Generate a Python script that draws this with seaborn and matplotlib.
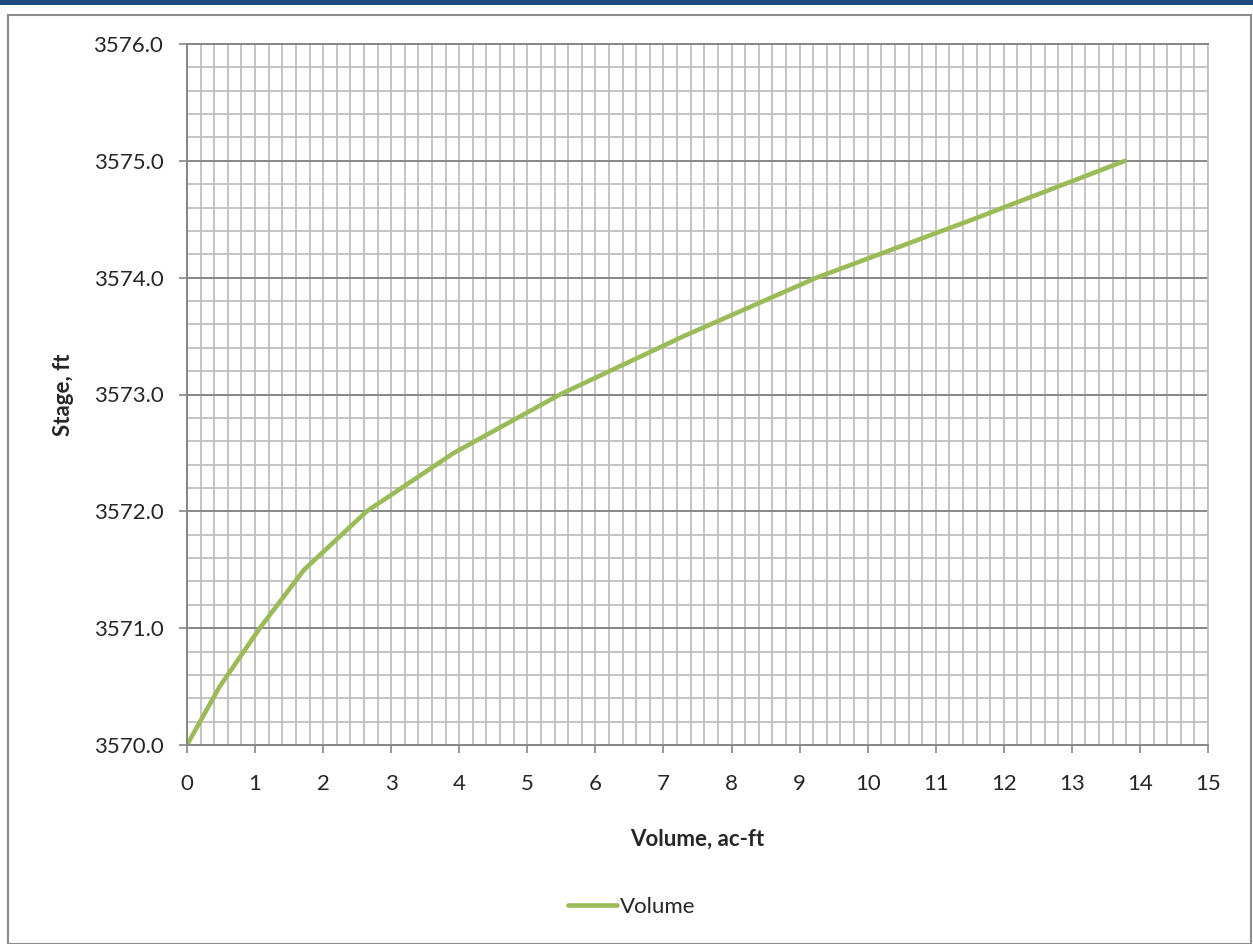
import numpy as np
import pandas as pd
import seaborn as sns
import matplotlib.pyplot as plt
from matplotlib.patches import Rectangle
from matplotlib.ticker import MultipleLocator, FormatStrFormatter

# stage-volume table
stage = [3570.0, 3570.5, 3571.0, 3571.5, 3572.0, 3572.5, 3573.0, 3573.5, 3574.0, 3574.5, 3575.0]
volume = [0.0, 0.48, 1.07, 1.72, 2.64, 3.92, 5.48, 7.30, 9.25, 11.55, 13.78]

df = pd.DataFrame({'Volume': volume, 'Stage': stage})

sns.set_style('white')
plt.rcParams['font.family'] = ['Lato', 'DejaVu Sans']

fig = plt.figure(figsize=(12.53, 9.44), dpi=100)
ax = fig.add_axes([187/1253, 1-745/944, (1208-187)/1253, (745-44)/944])

# frame and top bar
fig.patches.append(Rectangle((8/1253, 0), (1251-8)/1253, 1-15/944-0.0005, transform=fig.transFigure,
                             fill=False, edgecolor='#8c8c8c', linewidth=1.5))
fig.patches.append(Rectangle((0, 1-5/944), 1, 5/944, transform=fig.transFigure,
                             facecolor='#1f497d', edgecolor='none'))

sns.lineplot(data=df, x='Volume', y='Stage', ax=ax, color='#9bbb59', linewidth=3.3,
             label='Volume', legend=False)

ax.set_xlim(0, 15)
ax.set_ylim(3570, 3576)
ax.xaxis.set_major_locator(MultipleLocator(1))
ax.xaxis.set_minor_locator(MultipleLocator(0.2))
ax.yaxis.set_major_locator(MultipleLocator(1))
ax.yaxis.set_minor_locator(MultipleLocator(0.2))
ax.yaxis.set_major_formatter(FormatStrFormatter('%.1f'))

ax.grid(which='minor', axis='both', color='#bfbfbf', linewidth=1.3)
ax.grid(which='major', axis='x', color='#bfbfbf', linewidth=1.3)
ax.grid(which='major', axis='y', color='#868686', linewidth=1.4)
ax.set_axisbelow(True)

for s in ['left', 'bottom', 'top']:
    ax.spines[s].set_color('#868686')
    ax.spines[s].set_linewidth(1.4)
ax.spines['right'].set_color('#bfbfbf')
ax.spines['right'].set_linewidth(1.3)

ax.tick_params(which='major', direction='out', length=6, width=1.2, color='#868686',
               labelsize=16, pad=11, left=True, bottom=True)
ax.tick_params(which='minor', length=0)
ax.tick_params(axis='x', pad=15)

ax.set_xlabel('Volume, ac-ft', fontsize=16, fontweight='bold', labelpad=25)
ax.set_ylabel('Stage, ft', fontsize=16, fontweight='bold', labelpad=14)

h, l = ax.get_legend_handles_labels()
fig.legend(h, l, loc='center', bbox_to_anchor=(0.504, 1-907/944), frameon=False,
           fontsize=16, handlelength=2.2, handletextpad=0.15)

fig.savefig('out.png', dpi=100)
